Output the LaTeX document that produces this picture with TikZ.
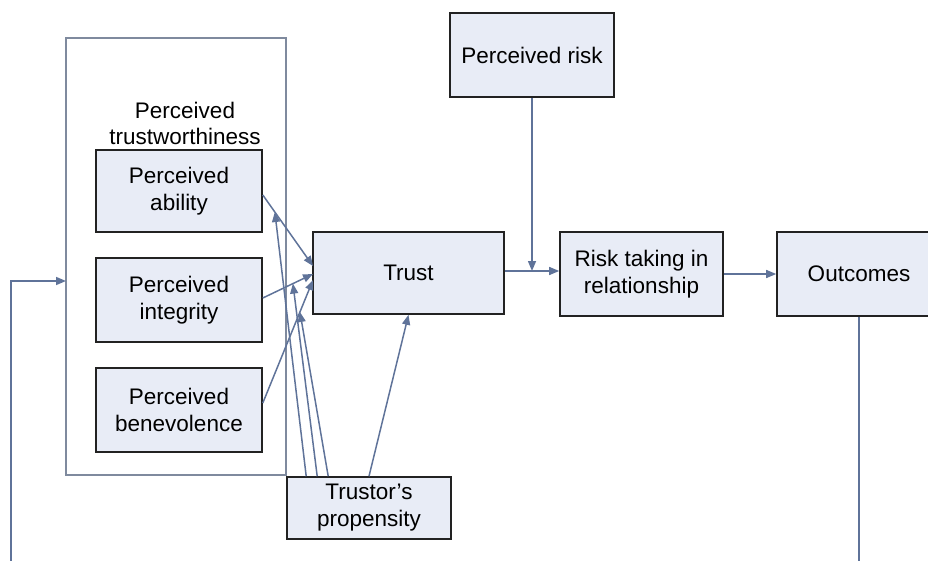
\documentclass[tikz,border=0pt]{standalone}
\usepackage{fontspec}
\setmainfont{Liberation Sans}
\usetikzlibrary{arrows.meta,calc}

\definecolor{boxfill}{HTML}{E8ECF6}
\definecolor{linkcol}{HTML}{5F7399}
\definecolor{framecol}{HTML}{7F8A9E}
\definecolor{boxline}{HTML}{222222}

\tikzset{
  x=1pt, y=-1pt,
  concept/.style={draw=boxline, line width=1.6pt, fill=boxfill, inner sep=0pt,
    align=center, font=\fontsize{22.5}{27}\selectfont},
  link/.style={draw=linkcol, line width=1.5pt},
  flow/.style={link, -{Triangle[length=10pt,width=8pt]}},
  group/.style={draw=framecol, line width=1.3pt},
  grouplabel/.style={align=center, font=\fontsize{22.5}{26}\selectfont, inner sep=0pt}
}

\begin{document}
\begin{tikzpicture}
\useasboundingbox (0,0) rectangle (928,561);
\clip (0,0) rectangle (928,561);

% frame around the trustworthiness factors
\draw[group] (66,38) rectangle (286,475);
\coordinate (grpw) at (66,281);
\node[grouplabel] (twlabel) at (185,123) {Perceived\\trustworthiness};

% factor boxes
\node[concept, minimum width=166pt, minimum height=82pt] (abil)  at (179,191) {Perceived\\ability};
\node[concept, minimum width=166pt, minimum height=84pt] (integ) at (179,300) {Perceived\\integrity};
\node[concept, minimum width=166pt, minimum height=84pt] (benev) at (179,410) {Perceived\\benevolence};

% main chain
\node[concept, minimum width=191pt, minimum height=82pt] (trust) at (408.5,273) {Trust};
\node[concept, minimum width=163pt, minimum height=84pt] (rtake) at (641.5,274) {Risk taking in\\relationship};
\node[concept, minimum width=164pt, minimum height=84pt] (outc)  at (859,274) {Outcomes};
\node[concept, minimum width=164pt, minimum height=84pt] (prisk) at (532,55) {Perceived risk};
\node[concept, minimum width=164pt, minimum height=62pt] (prop)  at (369,508) {Trustor’s\\propensity};

% factors -> trust
\draw[flow] ($(abil.east)+(0,4)$) -- coordinate[pos=0.24] (ma) (313,266);
\draw[flow] ($(integ.east)+(0,-2)$) -- coordinate[pos=0.6] (mi) (313,274);
\draw[flow] ($(benev.east)+(0,-7)$) -- coordinate[pos=0.74] (mb) (313,280);

% propensity moderates each factor link and feeds trust
\draw[flow] ($(prop.north west)+(20,0)$) -- (ma);
\draw[flow] ($(prop.north west)+(31,0)$) -- (mi);
\draw[flow] ($(prop.north west)+(42,0)$) -- (mb);
\draw[flow] (prop.north) -- (trust.south);

% trust -> risk taking, moderated by perceived risk
\coordinate (tr) at ($(trust.east)+(0,-2)$);
\draw[flow] (tr) -- (tr -| rtake.west);
\coordinate (rk) at (tr -| prisk.south);
\draw[flow] (prisk.south) -- (rk);

% risk taking -> outcomes
\draw[flow] (rtake.east) -- (outc.west);

% feedback loop
\coordinate (fbr) at (859,561);
\coordinate (fbl) at (11,561);
\draw[link] (outc.south) -- (fbr);
\draw[flow] (fbl) |- (grpw);
\end{tikzpicture}
\end{document}
